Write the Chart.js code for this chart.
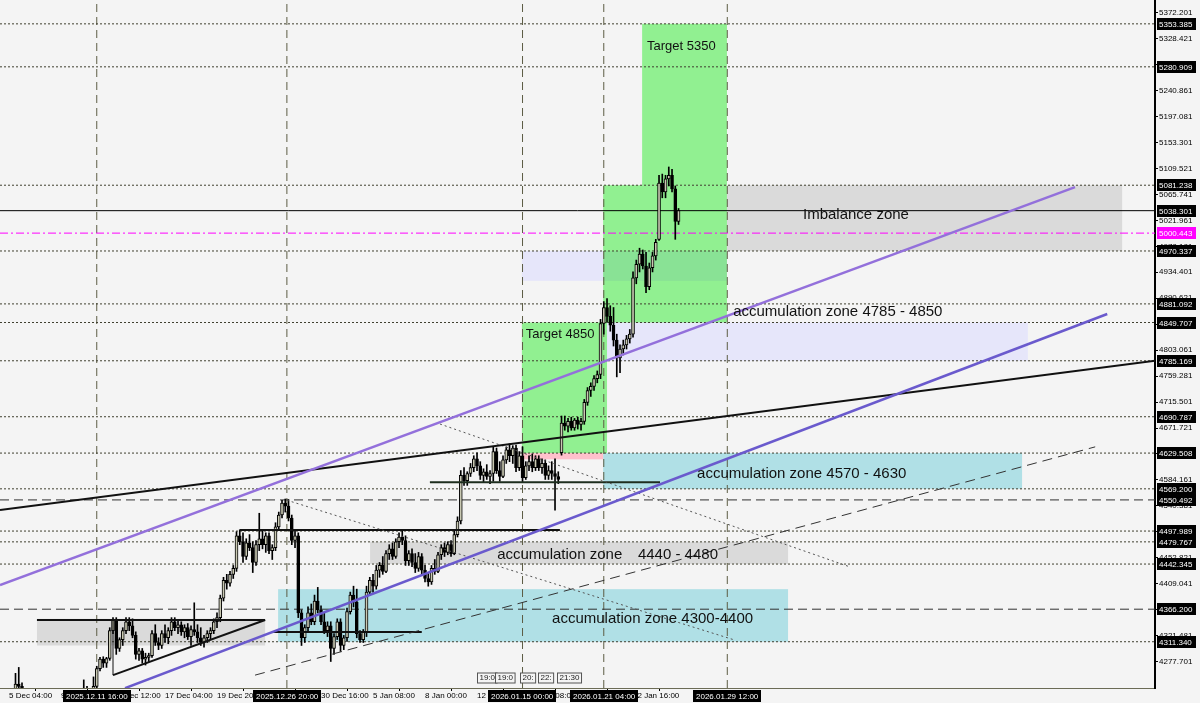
<!DOCTYPE html>
<html>
<head>
<meta charset="utf-8">
<script src="https://cdn.jsdelivr.net/npm/chart.js@4.4.1/dist/chart.umd.min.js"></script>
<style>
  html, body { margin: 0; padding: 0; background: #f4f4f4; }
  canvas { display: block; }
</style>
</head>
<body>
<canvas id="myChart" width="1200" height="703"></canvas>
<script>
// XAUUSD H4 candles, bar 0 = 5 Dec 04:00
const firstBar = -2;
const open = [
  4205,4212,4218,4214,4225,4240,4236,4220,4205,4198,4202,4210,4206,4192,4200,4212,4208,4195,4204,4215,4210,4202,4208,4218,4214,4220,4230,4218,4226,4236,
  4266,4282,4275,4283,4330,4348,4300,4315,4330,4345,4338,4322,4290,4296,4282,4285,4288,4325,4310,4305,4325,4318,4330,4345,4335,4340,4328,4335,4320,4332,
  4328,4318,4310,4318,4325,4330,4345,4352,4385,4415,4410,4425,4435,4490,4480,4455,4478,4470,4445,4475,4485,4475,4490,4465,4470,4505,4525,4545,4540,4520,
  4482,4490,4360,4318,4335,4360,4345,4380,4365,4345,4330,4338,4300,4320,4345,4305,4318,4362,4390,4378,4325,4315,4328,4395,4415,4405,4432,4440,4430,4460,
  4468,4455,4480,4488,4482,4448,4460,4445,4435,4455,4432,4418,4412,4435,4430,4458,4470,4462,4475,4460,4492,4515,4592,4583,4595,4605,4620,4608,4592,4598,
  4590,4595,4632,4600,4590,4618,4635,4625,4638,4605,4625,4588,4608,4615,4605,4620,4605,4612,4592,4600,4595,4590,4630,4680,4675,4683,4672,4685,4678,4683,
  4715,4735,4742,4755,4762,4848,4875,4860,4845,4820,4790,4805,4812,4822,4830,4925,4948,4965,4945,4910,4942,4962,4990,5085,5070,5092,5098,5075,5020
];
const high = [
  4222,4226,4232,4230,4258,4268,4242,4228,4215,4210,4218,4222,4214,4205,4216,4224,4215,4208,4220,4228,4218,4212,4222,4230,4225,4247,4236,4232,4252,4270,
  4285,4286,4285,4335,4352,4352,4318,4335,4352,4352,4350,4328,4300,4300,4292,4292,4330,4340,4318,4330,4340,4335,4352,4352,4348,4345,4340,4342,4338,4377,
  4340,4335,4322,4330,4335,4350,4360,4390,4420,4425,4430,4440,4497,4500,4495,4485,4492,4480,4482,4528,4498,4495,4495,4475,4512,4530,4550,4552,4551,4525,
  4498,4495,4365,4340,4370,4375,4390,4403,4372,4360,4345,4345,4325,4350,4350,4322,4368,4395,4405,4400,4330,4332,4405,4420,4425,4440,4445,4455,4465,4475,
  4478,4485,4495,4500,4490,4465,4468,4460,4462,4460,4440,4428,4440,4450,4462,4475,4478,4480,4482,4498,4522,4600,4605,4598,4612,4625,4630,4615,4603,4610,
  4600,4640,4638,4615,4625,4640,4645,4642,4643,4632,4640,4615,4625,4628,4625,4625,4620,4618,4608,4615,4620,4598,4692,4692,4688,4690,4688,4690,4688,4720,
  4740,4748,4760,4768,4855,4885,4890,4878,4875,4830,4812,4820,4828,4838,4935,4955,4975,4972,4968,4950,4968,4990,5098,5100,5098,5112,5108,5080,5042
];
const low = [
  4195,4204,4208,4206,4220,4232,4215,4198,4190,4185,4195,4200,4188,4180,4196,4202,4190,4186,4198,4206,4196,4192,4200,4210,4205,4215,4212,4210,4220,4225,
  4262,4268,4268,4280,4325,4290,4295,4305,4325,4330,4318,4282,4280,4275,4272,4278,4285,4305,4298,4300,4310,4308,4322,4330,4325,4322,4318,4315,4305,4322,
  4310,4305,4302,4310,4315,4325,4335,4345,4380,4400,4405,4418,4430,4475,4445,4450,4465,4428,4440,4465,4468,4462,4460,4450,4465,4500,4520,4530,4515,4475,
  4470,4352,4305,4310,4330,4340,4340,4360,4340,4325,4320,4278,4290,4315,4295,4298,4312,4358,4370,4318,4310,4310,4320,4390,4395,4400,4420,4425,4428,4450,
  4450,4452,4470,4475,4440,4440,4438,4428,4430,4425,4412,4405,4408,4425,4428,4450,4455,4458,4455,4458,4488,4510,4575,4575,4590,4598,4600,4585,4580,4585,
  4578,4582,4595,4582,4588,4612,4615,4612,4598,4600,4580,4585,4600,4598,4600,4600,4595,4585,4585,4585,4533,4578,4626,4668,4665,4668,4668,4670,4668,4678,
  4710,4725,4735,4748,4755,4830,4850,4835,4810,4758,4765,4795,4805,4815,4825,4915,4935,4940,4900,4905,4935,4955,4988,5060,5060,5080,5070,4990,5015
];
const close = [
  4212,4218,4214,4225,4240,4236,4220,4205,4198,4202,4210,4206,4192,4200,4212,4208,4195,4204,4215,4210,4202,4208,4218,4214,4220,4230,4218,4226,4236,4266,
  4282,4275,4283,4330,4348,4300,4315,4330,4345,4338,4322,4290,4296,4282,4285,4288,4325,4310,4305,4325,4318,4330,4345,4335,4340,4328,4335,4320,4332,4328,
  4318,4310,4318,4325,4330,4345,4352,4385,4415,4410,4425,4435,4490,4480,4455,4478,4470,4445,4475,4485,4475,4490,4465,4470,4505,4525,4545,4540,4520,4482,
  4490,4360,4318,4335,4360,4345,4380,4365,4345,4330,4338,4300,4320,4345,4305,4318,4362,4390,4378,4325,4315,4328,4395,4415,4405,4432,4440,4430,4460,4468,
  4455,4480,4488,4482,4448,4460,4445,4435,4455,4432,4418,4412,4435,4430,4458,4470,4462,4475,4460,4492,4515,4592,4583,4595,4605,4620,4608,4592,4598,4590,
  4595,4632,4600,4590,4618,4635,4625,4638,4605,4625,4588,4608,4615,4605,4620,4605,4612,4592,4600,4595,4590,4585,4680,4675,4683,4672,4685,4678,4683,4715,
  4735,4742,4755,4762,4848,4875,4860,4845,4820,4790,4805,4812,4822,4830,4925,4948,4965,4945,4910,4942,4962,4985,5085,5070,5092,5098,5075,5020,5038.301
];

// axis ticks
const yTicks = [5372.201,5328.421,5284.641,5240.861,5197.081,5153.301,5109.521,5065.741,5021.961,4978.181,4934.401,4890.621,4846.841,
  4803.061,4759.281,4715.501,4671.721,4627.941,4584.161,4540.381,4496.601,4452.821,4409.041,4365.261,4321.481,4277.701];
const xTickBars = [0,16,32,48,64,80,96,112,128,144,160,176,192];
const xTickLabels = ['5 Dec 04:00','9 Dec 20:00','12 Dec 12:00','17 Dec 04:00','19 Dec 20:00','24 Dec 12:00','30 Dec 16:00',
  '5 Jan 08:00','8 Jan 00:00','12 Jan 16:00','15 Jan 08:00','20 Jan 00:00','22 Jan 16:00'];

// vertical period separators
const markerBars = [27, 85.5, 158, 183, 221];
const markerLabels = ['2025.12.11 16:00','2025.12.26 20:00','2026.01.15 00:00','2026.01.21 04:00','2026.01.29 12:00'];

// horizontal levels
const dottedLevels = [5353.385,5280.909,5081.238,4970.337,4881.092,4849.707,4785.169,4690.787,4629.508,4569.2,4497.989,4479.767,4442.345,4311.34];
const dashedLevels = [4550.492, 4366.2];
const bidLevel = 5038.301;
const pivotLevel = 5000.443;
const tagLevels = [5353.385,5280.909,5081.238,5038.301,4970.337,4881.092,4849.707,4785.169,4690.787,4629.508,4569.2,4550.492,
  4497.989,4479.767,4442.345,4366.2,4311.34];

// zones: [fromBar, toBar, lowPrice, highPrice, kind]
const zones = [
  [8.6, 78.8, 4305, 4350, 'gray'],
  [82.8, 239.7, 4311.34, 4400, 'cyan'],
  [111.1, 239.7, 4442.345, 4479.767, 'gray'],
  [182.8, 311.7, 4569.2, 4629.508, 'cyan'],
  [157.8, 182.8, 4619, 4629.508, 'pink'],
  [184, 313.5, 4785.169, 4849.707, 'lavender'],
  [157.8, 220.9, 4920, 4970.337, 'lavender'],
  [220.9, 342.5, 4970.337, 5081.238, 'gray'],
  [157.8, 184, 4629.508, 4849.707, 'green'],
  [182.8, 220.9, 4849.707, 5081.238, 'green'],
  [194.8, 220.9, 5081.238, 5353.385, 'green']
];

// drawn lines: [bar1, price1, bar2, price2, kind]
const drawnLines = [
  [-2.77, 4407, 328, 5078, 'channelTop'],
  [35.7, 4233, 337.9, 4864, 'channelBottom'],
  [-2.77, 4533.5, 352.6, 4785.169, 'trend'],
  [75.7, 4255, 334.2, 4640, 'dashed'],
  [132.6, 4678.5, 258.8, 4437.4, 'dotted'],
  [85.5, 4550, 223.4, 4314, 'dotted'],
  [129.5, 4580.5, 200.3, 4580.5, 'segmentDark'],
  [71, 4499.8, 169.5, 4499.8, 'segment'],
  [81, 4327.7, 127, 4327.7, 'segment'],
  [8.6, 4348, 78.8, 4348, 'segment'],
  [32, 4255, 78.8, 4348, 'segment'],
  [32, 4255, 32, 4348, 'thin']
];

// text objects: [bar, price, text, kind]
const notes = [
  [196.3, 5316, 'Target 5350', 'target'],
  [159, 4830, 'Target 4850', 'target'],
  [244.3, 5032, 'Imbalance zone', 'zone'],
  [222.8, 4867.4, 'accumulation zone 4785 - 4850', 'zone'],
  [211.7, 4594, 'accumulation zone 4570 - 4630', 'zone'],
  [150.2, 4457.6, 'accumulation zone', 'zone'],
  [193.5, 4457.6, '4440 - 4480', 'zone'],
  [167.1, 4349.7, 'accumulation zone 4300-4400', 'zone']
];

// small event labels along the bottom
const eventBars = [144, 149.5, 157.2, 162.8, 168.6];
const eventTexts = ['19:0', '19:0', '20:', '22:', '21:30'];

const xMin = -2.77, xMax = 352.6;
const yMin = 4233.3, yMax = 5393.6;

// styles
const UP = '#c8c8b2', DOWN = '#000000';
const zoneColors = { gray: '#dadada', cyan: '#b0e0e6', pink: '#ffc0cb', lavender: '#e6e6fa', green: '#98fb98' };
const lineStyles = {
  channelTop: { color: '#9370db', width: 2.5, dash: [] },
  channelBottom: { color: '#6a5acd', width: 2.5, dash: [] },
  trend: { color: '#111111', width: 2, dash: [] },
  dashed: { color: '#333333', width: 1, dash: [10, 6] },
  dotted: { color: '#555555', width: 1, dash: [2, 3] },
  segment: { color: '#111111', width: 2, dash: [] },
  segmentDark: { color: '#1e2e1e', width: 2, dash: [] },
  thin: { color: '#111111', width: 1, dash: [] }
};
const noteFonts = { target: "13px 'Liberation Sans', Arial", zone: "15px 'Liberation Sans', Arial" };

Chart.defaults.font.family = "'Liberation Sans', Arial, sans-serif";
Chart.defaults.color = '#000';

const bars = open.map((_, k) => firstBar + k);

const datasets = [];

dottedLevels.forEach(p => datasets.push({
  type: 'line', data: [{x: xMin, y: p}, {x: xMax, y: p}],
  borderColor: '#404030', borderWidth: 1, borderDash: [2, 2], pointRadius: 0, order: 10
}));
dashedLevels.forEach(p => datasets.push({
  type: 'line', data: [{x: xMin, y: p}, {x: xMax, y: p}],
  borderColor: '#303030', borderWidth: 1, borderDash: [9, 5], pointRadius: 0, order: 10
}));
datasets.push({
  type: 'line', data: [{x: xMin, y: bidLevel}, {x: xMax, y: bidLevel}],
  borderColor: '#000', borderWidth: 1, pointRadius: 0, order: 10
});
datasets.push({
  type: 'line', data: [{x: xMin, y: pivotLevel}, {x: xMax, y: pivotLevel}],
  borderColor: '#ff00ff', borderWidth: 1, borderDash: [8, 3, 2, 3], pointRadius: 0, order: 10
});
markerBars.forEach(b => datasets.push({
  type: 'line', data: [{x: b, y: yMin}, {x: b, y: yMax}],
  borderColor: '#5c5c44', borderWidth: 1, borderDash: [8, 5], pointRadius: 0, order: 10
}));

// candles: wick + body
datasets.push({
  type: 'bar', data: bars.map((b, k) => ({x: b, y: [low[k], high[k]]})),
  backgroundColor: '#000', borderWidth: 0, grouped: false, maxBarThickness: 1,
  barPercentage: 1, categoryPercentage: 1, order: 6
});
datasets.push({
  type: 'bar', data: bars.map((b, k) => ({x: b, y: [open[k], close[k]]})),
  backgroundColor: bars.map((b, k) => close[k] >= open[k] ? UP : DOWN),
  borderColor: '#000', borderWidth: 1, borderSkipped: false, minBarLength: 1,
  grouped: false, maxBarThickness: 3, barPercentage: 1, categoryPercentage: 1, order: 5
});

drawnLines.forEach(l => {
  const s = lineStyles[l[4]];
  datasets.push({
    type: 'line', data: [{x: l[0], y: l[1]}, {x: l[2], y: l[3]}],
    borderColor: s.color, borderWidth: s.width, borderDash: s.dash, pointRadius: 0, order: 1
  });
});

const background = {
  id: 'background',
  beforeDraw(chart) {
    const c = chart.ctx;
    c.save();
    c.fillStyle = '#f4f4f4';
    c.fillRect(0, 0, chart.width, chart.height);
    c.restore();
  }
};

const zonePlugin = {
  id: 'zones',
  beforeDatasetsDraw(chart) {
    const {ctx: c, chartArea: a, scales: {x, y}} = chart;
    c.save();
    c.beginPath(); c.rect(a.left, a.top, a.width, a.height); c.clip();
    zones.forEach(z => {
      const x0 = x.getPixelForValue(z[0]), x1 = x.getPixelForValue(z[1]);
      const y0 = y.getPixelForValue(z[3]), y1 = y.getPixelForValue(z[2]);
      c.globalCompositeOperation = z[4] === 'green' ? 'multiply' : 'source-over';
      c.fillStyle = zoneColors[z[4]];
      c.fillRect(x0, y0, x1 - x0, y1 - y0);
    });
    c.restore();
  }
};

const notePlugin = {
  id: 'notes',
  afterDatasetsDraw(chart) {
    const {ctx: c, scales: {x, y}} = chart;
    c.save();
    c.fillStyle = '#111';
    c.textBaseline = 'middle';
    c.textAlign = 'left';
    notes.forEach(n => {
      c.font = noteFonts[n[3]];
      c.fillText(n[2], x.getPixelForValue(n[0]), y.getPixelForValue(n[1]));
    });
    // event labels
    c.font = "8px 'Liberation Sans', Arial";
    const by = chart.chartArea.bottom;
    eventBars.forEach((b, k) => {
      const px = Math.round(x.getPixelForValue(b)) + 0.5;
      const w = c.measureText(eventTexts[k]).width + 4;
      c.fillStyle = '#f4f4f4';
      c.fillRect(px, by - 15, w, 10);
      c.strokeStyle = '#555';
      c.lineWidth = 1;
      c.strokeRect(px, by - 15, w, 10);
      c.fillStyle = '#222';
      c.fillText(eventTexts[k], px + 2, by - 10);
    });
    c.restore();
  }
};

const tagPlugin = {
  id: 'tags',
  afterDraw(chart) {
    const {ctx: c, chartArea: a, scales: {x, y}} = chart;
    c.save();
    c.font = "8px 'Liberation Sans', Arial";
    c.textBaseline = 'middle';
    c.textAlign = 'left';
    const drawTag = (p, bg) => {
      const py = Math.round(y.getPixelForValue(p));
      c.fillStyle = bg;
      c.fillRect(a.right + 2, py - 6, 39, 12);
      c.fillStyle = '#fff';
      c.fillText(p.toFixed(3), a.right + 4, py + 0.5);
    };
    tagLevels.forEach(p => drawTag(p, '#000'));
    drawTag(pivotLevel, '#ff00ff');
    markerBars.forEach((b, k) => {
      const px = x.getPixelForValue(b);
      const w = c.measureText(markerLabels[k]).width + 6;
      c.fillStyle = '#000';
      c.fillRect(Math.round(px - w / 2), a.bottom + 2, Math.round(w), 12);
      c.fillStyle = '#fff';
      c.fillText(markerLabels[k], Math.round(px - w / 2) + 3, a.bottom + 8.5);
    });
    c.restore();
  }
};

new Chart(document.getElementById('myChart'), {
  type: 'bar',
  data: { datasets },
  options: {
    responsive: false,
    animation: false,
    devicePixelRatio: 1,
    layout: { padding: 0 },
    plugins: { legend: { display: false }, tooltip: { enabled: false } },
    scales: {
      x: {
        type: 'linear', min: xMin, max: xMax, offset: false,
        grid: { drawOnChartArea: false, tickLength: 3, color: '#000' },
        border: { display: true, color: '#6b6b55', width: 1 },
        ticks: {
          autoSkip: false, maxRotation: 0, minRotation: 0, align: 'start', padding: 0,
          font: { size: 8 }, color: '#000',
          callback: (v, i) => xTickLabels[i]
        },
        afterBuildTicks: s => { s.ticks = xTickBars.map(v => ({ value: v })); },
        afterFit: s => { s.height = 15; s.paddingLeft = 0; s.paddingRight = 0; }
      },
      y: {
        position: 'right', min: yMin, max: yMax,
        grid: { drawOnChartArea: false, tickLength: 3, color: '#000' },
        border: { display: true, color: '#000', width: 2 },
        ticks: { padding: 1, font: { size: 8 }, color: '#000', callback: v => v.toFixed(3) },
        afterBuildTicks: s => { s.ticks = yTicks.map(v => ({ value: v })); },
        afterFit: s => { s.width = 45; s.paddingTop = 0; s.paddingBottom = 0; }
      }
    }
  },
  plugins: [background, zonePlugin, notePlugin, tagPlugin]
});
</script>
</body>
</html>
